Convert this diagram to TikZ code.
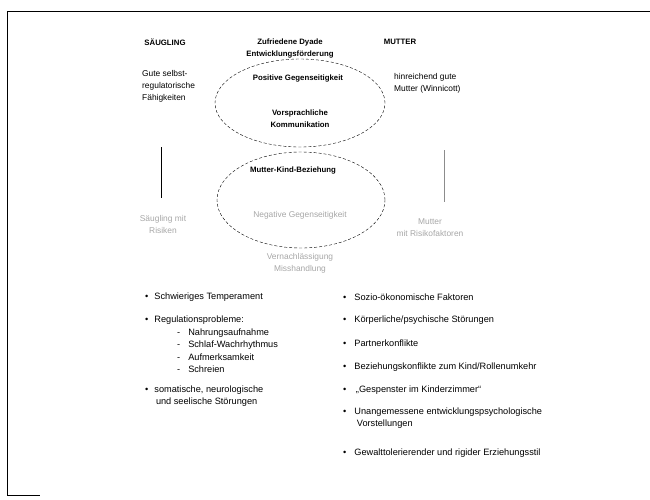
\documentclass[tikz,border=0pt]{standalone}
\usepackage{fontspec}
\setmainfont{Liberation Sans}
\usepackage{tikz}
\usetikzlibrary{positioning}
\usetikzlibrary{shapes.geometric}

\tikzset{
  txt/.style={inner sep=0pt, font=\fontsize{9.2}{12}\selectfont, align=left},
  head/.style={txt, font=\fontsize{7.8}{12}\selectfont\bfseries, align=center},
  faint/.style={txt, text=black!35, align=center},
  dyad/.style={draw, ellipse, densely dashed, thin},
  bul/.style={txt, anchor=west}
}

\begin{document}
\begin{tikzpicture}[x=1pt, y=-1pt]
                \useasboundingbox (0,0) rectangle (650,499);

                % Frame
                \draw[thin] (650,11) -- (7,11) -- (7,495) -- (40,495);

                % Nodes
                \node[head] at (165,42) (saeug) {SÄUGLING};
                \node[head] at (290,48) (zufr) {Zufriedene Dyade\\Entwicklungsförderung};
                \node[head] at (400,42) (mutter) {MUTTER};
                \node[txt, anchor=north west, font=\fontsize{8.4}{12}\selectfont] at (142,70) (gute) {Gute selbst-\\regulatorische\\Fähigkeiten};
                \node[txt, anchor=west, font=\fontsize{8.4}{12}\selectfont] at (394,83) (hinr) {hinreichend gute\\Mutter (Winnicott)};

                \node[dyad, minimum width=170pt, minimum height=88pt] at (300,103) (pos) {};
                \node[head] at (298,78) (posg) {Positive Gegenseitigkeit};
                \node[head] at (300,119) (vorspr) {Vorsprachliche\\Kommunikation};

                \node[dyad, minimum width=168pt, minimum height=96pt] at (301,200) (neg) {};
                \node[head] at (293,170) (mkb) {Mutter-Kind-Beziehung};
                \node[faint, font=\fontsize{8.4}{12}\selectfont] at (300,215) (negg) {Negative Gegenseitigkeit};
                \node[faint, font=\fontsize{8.4}{12}\selectfont] at (300,263) (vern) {Vernachlässigung\\Misshandlung};

                \node[faint, font=\fontsize{8.4}{12}\selectfont] at (163,224) (slinks) {Säugling mit\\Risiken};
                \node[faint, font=\fontsize{8.4}{12}\selectfont] at (430,228) (mrechts) {Mutter\\mit Risikofaktoren};

                \coordinate (lt) at (161,147);
                \coordinate (lb) at (161,198);
                \coordinate (rt) at (444,150);
                \coordinate (rb) at (444,202);

                % Lines
                \draw[thin] (lt) -- (lb);
                \draw[thin, black!45] (rt) -- (rb);

                % Saeugling list
                \node[bul] at (145,297) (s1) {\textbullet\hspace{6pt}Schwieriges Temperament};
                \node[bul] at (145,320) (s2) {\textbullet\hspace{6pt}Regulationsprobleme:};
                \node[bul] at (177,333) (s2a) {-\hspace{8pt}Nahrungsaufnahme};
                \node[bul] at (177,345) (s2b) {-\hspace{8pt}Schlaf-Wachrhythmus};
                \node[bul] at (177,357) (s2c) {-\hspace{8pt}Aufmerksamkeit};
                \node[bul] at (177,369) (s2d) {-\hspace{8pt}Schreien};
                \node[bul] at (145,390) (s3) {\textbullet\hspace{6pt}somatische, neurologische};
                \node[bul] at (155.8,402) (s3b) {und seelische Störungen};

                % Mutter list
                \foreach \yy/\lab/\nm in {297/{Sozio-ökonomische Faktoren}/m1,
                    320/{Körperliche/psychische Störungen}/m2,
                    343/{Partnerkonflikte}/m3,
                    367/{Beziehungskonflikte zum Kind/Rollenumkehr}/m4,
                    390/{\,„Gespenster im Kinderzimmer“}/m5,
                    412/{Unangemessene entwicklungspsychologische}/m6,
                    453/{Gewalttolerierender und rigider Erziehungsstil}/m7}
                    \node[bul] at (343,\yy) (\nm) {\textbullet\hspace{8pt}\lab};
                \node[bul] at (356.7,424) (m6b) {Vorstellungen};

            \end{tikzpicture}
\end{document}
